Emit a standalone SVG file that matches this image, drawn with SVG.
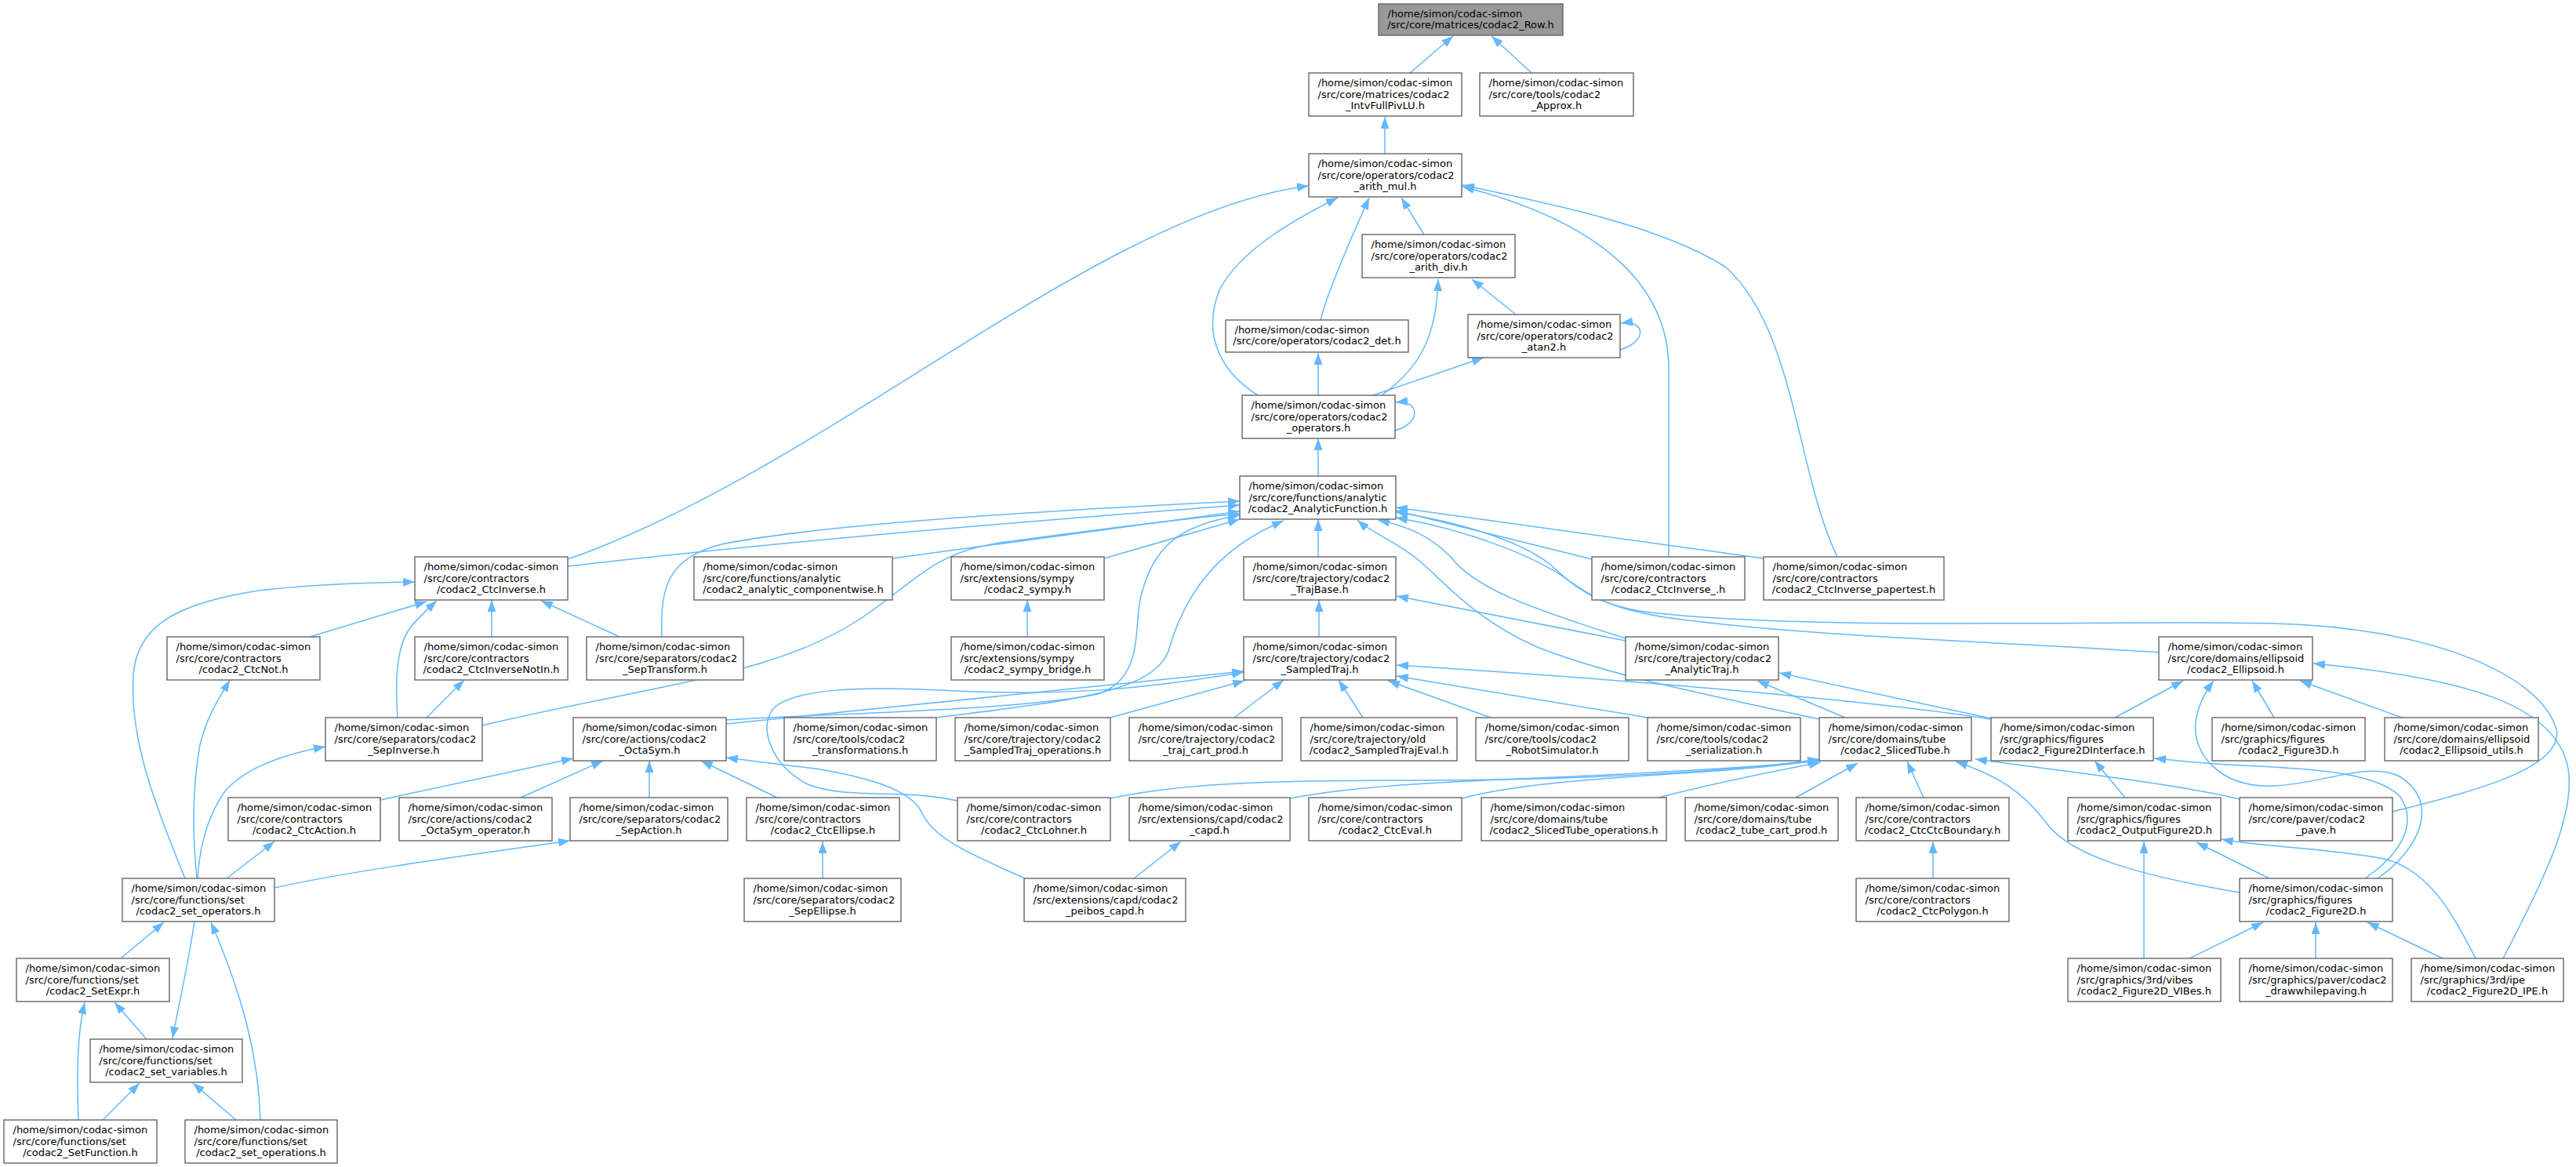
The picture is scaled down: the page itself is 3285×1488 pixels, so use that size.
<svg xmlns="http://www.w3.org/2000/svg" width="3285" height="1488" viewBox="0 0 3285 1488">
<style>
.n rect{fill:#ffffff;stroke:#666666;stroke-width:1.4}
.n rect.root{fill:#999999}
.n text{font-family:"DejaVu Sans","Liberation Sans",sans-serif;font-size:13px;fill:#000000}
.n text.c{text-anchor:middle}
.e path{fill:none;stroke:#63b8ff;stroke-width:1.5;marker-end:url(#a)}
</style>
<defs>
<marker id="a" viewBox="0 0 15 11" refX="15" refY="5.5" markerWidth="15" markerHeight="11" markerUnits="userSpaceOnUse" orient="auto"><path d="M0,0 L15,5.5 L0,11 z" fill="#63b8ff" stroke="none"/></marker>
</defs>
<rect x="0" y="0" width="3285" height="1488" fill="#ffffff"/>
<g id="edges" class="e">
<path d="M1798,93 L1853,46"/>
<path d="M1953,93 L1902,46"/>
<path d="M1766,196 L1766,149"/>
<path d="M1816,299 L1787,252"/>
<path d="M1684,408 C1692,375 1720,310 1746,252"/>
<path d="M1604,504 C1550,470 1535,420 1555,370 C1580,320 1650,280 1706,252"/>
<path d="M724,713 C1050,600 1400,270 1669,237"/>
<path d="M2128,710 L2128,470 C2128,370 2050,285 1865,238"/>
<path d="M2343,710 C2290,600 2290,420 2200,340 C2120,290 1990,262 1865,236"/>
<path d="M1762,504 C1810,470 1832,430 1834,356"/>
<path d="M1933,401 L1877,356"/>
<path d="M2066,446 C2100,436 2100,408 2067,412"/>
<path d="M1751,504 L1892,456"/>
<path d="M1681,504 L1681,450"/>
<path d="M1779,549 C1812,540 1812,510 1780,513"/>
<path d="M1681,607 L1681,559"/>
<path d="M724,722 C1000,690 1300,665 1581,644"/>
<path d="M844,812 C842,750 850,712 920,694 C1050,668 1350,650 1581,639"/>
<path d="M1138,712 L1581,652"/>
<path d="M615,925 C850,870 1000,860 1110,780 C1180,730 1200,700 1290,690 C1400,675 1500,662 1581,655"/>
<path d="M1408,712 L1581,662"/>
<path d="M1681,710 L1681,662"/>
<path d="M2030,713 L1780,651"/>
<path d="M2249,712 L1780,647"/>
<path d="M2753,832 C2550,818 2300,812 2123,787 C2050,775 2030,760 2000,740 C1960,710 1870,675 1780,660"/>
<path d="M3051,1035 C3150,1010 3270,980 3260,930 C3240,860 3100,800 2900,795 C2700,790 2300,805 2097,780 C2030,770 2005,745 1977,720 C1940,690 1860,665 1780,653"/>
<path d="M2073,814 C1950,775 1880,750 1850,710 C1820,680 1790,670 1757,663"/>
<path d="M2320,917 C2150,880 2050,860 1960,825 C1880,790 1840,740 1810,715 C1780,690 1750,680 1731,663"/>
<path d="M926,918 C1100,908 1300,905 1400,885 C1460,865 1445,800 1455,760 C1470,700 1500,670 1581,657"/>
<path d="M1194,915 C1350,895 1470,885 1490,830 C1510,760 1550,700 1637,664"/>
<path d="M2073,817 L1781,760"/>
<path d="M1682,812 L1682,765"/>
<path d="M1310,812 L1310,765"/>
<path d="M395,812 L544,767"/>
<path d="M627,812 L627,765"/>
<path d="M790,812 L690,766"/>
<path d="M507,915 C504,870 505,830 520,805 C530,790 545,777 557,766"/>
<path d="M544,915 L592,867"/>
<path d="M236,1120 C195,1020 165,940 170,860 C175,800 220,770 330,753 C400,745 470,743 529,742"/>
<path d="M251,1120 C245,1060 246,1000 255,950 C265,910 280,890 293,867"/>
<path d="M252,1120 C255,1070 270,1030 290,1005 C320,975 370,960 415,952"/>
<path d="M485,1020 L731,967"/>
<path d="M664,1017 L769,970"/>
<path d="M828,1017 L828,970"/>
<path d="M991,1017 L894,970"/>
<path d="M1307,1120 C1240,1090 1190,1070 1175,1035 C1160,1005 1100,990 1040,980 C990,974 955,970 926,966"/>
<path d="M926,923 L1586,856"/>
<path d="M1221,1021 C1150,1005 1080,1020 1030,1000 C980,975 965,920 990,900 C1020,878 1100,875 1200,880 C1350,888 1450,880 1586,857"/>
<path d="M1416,915 L1587,868"/>
<path d="M1574,915 L1637,867"/>
<path d="M1738,915 L1707,867"/>
<path d="M1901,915 L1770,868"/>
<path d="M2101,915 L1781,862"/>
<path d="M2539,917 C2400,895 2100,868 1781,848"/>
<path d="M2539,916 L2269,858"/>
<path d="M2353,915 L2241,868"/>
<path d="M2697,915 L2784,868"/>
<path d="M2900,915 L2872,868"/>
<path d="M3063,915 L2933,868"/>
<path d="M3192,1222 C3240,1130 3285,1040 3275,980 C3260,900 3150,865 2950,846"/>
<path d="M3032,1120 C3090,1080 3110,1020 3060,990 C3020,970 2960,1000 2900,1002 C2830,1005 2795,960 2800,920 C2803,900 2810,885 2823,868"/>
<path d="M3016,1120 C3060,1090 3085,1050 3060,1015 C3030,985 2950,980 2860,976 C2810,974 2780,970 2747,967"/>
<path d="M2710,1017 L2671,970"/>
<path d="M1416,1018 C1500,1000 1600,995 1800,995 C2000,995 2200,985 2320,968"/>
<path d="M1645,1018 C1750,998 1900,995 2050,988 C2200,980 2280,975 2320,970"/>
<path d="M1864,1018 C1950,995 2100,990 2200,982 C2260,978 2300,972 2320,969"/>
<path d="M2115,1017 C2200,995 2270,982 2322,972"/>
<path d="M2290,1017 L2369,973"/>
<path d="M2453,1017 L2432,971"/>
<path d="M2856,1138 C2720,1115 2640,1090 2610,1050 C2580,1010 2550,990 2494,971"/>
<path d="M2856,1019 C2780,1000 2620,982 2519,968"/>
<path d="M2465,1120 L2465,1073"/>
<path d="M2734,1222 L2734,1073"/>
<path d="M2894,1120 L2801,1074"/>
<path d="M3157,1222 C3130,1170 3100,1110 3040,1095 C2960,1080 2880,1080 2833,1070"/>
<path d="M2792,1222 L2886,1176"/>
<path d="M2953,1222 L2953,1176"/>
<path d="M3115,1222 L3019,1176"/>
<path d="M1049,1120 L1049,1073"/>
<path d="M1446,1120 L1506,1073"/>
<path d="M289,1120 L350,1073"/>
<path d="M350,1132 C450,1110 600,1090 727,1072"/>
<path d="M154,1222 L209,1176"/>
<path d="M248,1175 C240,1230 228,1280 220,1324"/>
<path d="M332,1428 C330,1350 310,1270 269,1176"/>
<path d="M187,1325 L146,1278"/>
<path d="M100,1428 C98,1370 98,1320 108,1278"/>
<path d="M131,1428 L178,1381"/>
<path d="M301,1428 L246,1381"/>
</g>
<g id="n_Row" class="n"><rect class="root" x="1758" y="5" width="235" height="40"/><text x="1769.5" y="21.5">/home/simon/codac-simon</text><text class="c" x="1875.5" y="36.3">/src/core/matrices/codac2_Row.h</text></g>
<g id="n_IntvFullPivLU" class="n"><rect x="1669" y="93" width="195" height="55"/><text x="1680.5" y="109.8">/home/simon/codac-simon</text><text x="1680.5" y="124.6">/src/core/matrices/codac2</text><text class="c" x="1766.5" y="139.4">_IntvFullPivLU.h</text></g>
<g id="n_Approx" class="n"><rect x="1887" y="93" width="196" height="55"/><text x="1898.5" y="109.8">/home/simon/codac-simon</text><text x="1898.5" y="124.6">/src/core/tools/codac2</text><text class="c" x="1985" y="139.4">_Approx.h</text></g>
<g id="n_arith_mul" class="n"><rect x="1669" y="196" width="195" height="55"/><text x="1680.5" y="212.8">/home/simon/codac-simon</text><text x="1680.5" y="227.6">/src/core/operators/codac2</text><text class="c" x="1766.5" y="242.4">_arith_mul.h</text></g>
<g id="n_arith_div" class="n"><rect x="1737" y="299" width="195" height="55"/><text x="1748.5" y="315.8">/home/simon/codac-simon</text><text x="1748.5" y="330.6">/src/core/operators/codac2</text><text class="c" x="1834.5" y="345.4">_arith_div.h</text></g>
<g id="n_det" class="n"><rect x="1563" y="408" width="233" height="41"/><text x="1574.5" y="424.5">/home/simon/codac-simon</text><text class="c" x="1679.5" y="439.3">/src/core/operators/codac2_det.h</text></g>
<g id="n_atan2" class="n"><rect x="1872" y="401" width="194" height="55"/><text x="1883.5" y="417.8">/home/simon/codac-simon</text><text x="1883.5" y="432.6">/src/core/operators/codac2</text><text class="c" x="1969" y="447.4">_atan2.h</text></g>
<g id="n_operators" class="n"><rect x="1584" y="504" width="195" height="55"/><text x="1595.5" y="520.8">/home/simon/codac-simon</text><text x="1595.5" y="535.6">/src/core/operators/codac2</text><text class="c" x="1681.5" y="550.4">_operators.h</text></g>
<g id="n_AnalyticFunction" class="n"><rect x="1581" y="607" width="199" height="55"/><text x="1592.5" y="623.8">/home/simon/codac-simon</text><text x="1592.5" y="638.6">/src/core/functions/analytic</text><text class="c" x="1680.5" y="653.4">/codac2_AnalyticFunction.h</text></g>
<g id="n_CtcInverse" class="n"><rect x="529" y="710" width="195" height="55"/><text x="540.5" y="726.8">/home/simon/codac-simon</text><text x="540.5" y="741.6">/src/core/contractors</text><text class="c" x="626.5" y="756.4">/codac2_CtcInverse.h</text></g>
<g id="n_analytic_componentwise" class="n"><rect x="885" y="710" width="253" height="55"/><text x="896.5" y="726.8">/home/simon/codac-simon</text><text x="896.5" y="741.6">/src/core/functions/analytic</text><text class="c" x="1011.5" y="756.4">/codac2_analytic_componentwise.h</text></g>
<g id="n_sympy" class="n"><rect x="1213" y="710" width="195" height="55"/><text x="1224.5" y="726.8">/home/simon/codac-simon</text><text x="1224.5" y="741.6">/src/extensions/sympy</text><text class="c" x="1310.5" y="756.4">/codac2_sympy.h</text></g>
<g id="n_TrajBase" class="n"><rect x="1586" y="710" width="194" height="55"/><text x="1597.5" y="726.8">/home/simon/codac-simon</text><text x="1597.5" y="741.6">/src/core/trajectory/codac2</text><text class="c" x="1683" y="756.4">_TrajBase.h</text></g>
<g id="n_CtcInverse_" class="n"><rect x="2030" y="710" width="195" height="55"/><text x="2041.5" y="726.8">/home/simon/codac-simon</text><text x="2041.5" y="741.6">/src/core/contractors</text><text class="c" x="2127.5" y="756.4">/codac2_CtcInverse_.h</text></g>
<g id="n_CtcInverse_papertest" class="n"><rect x="2249" y="710" width="230" height="55"/><text x="2260.5" y="726.8">/home/simon/codac-simon</text><text x="2260.5" y="741.6">/src/core/contractors</text><text class="c" x="2364" y="756.4">/codac2_CtcInverse_papertest.h</text></g>
<g id="n_CtcNot" class="n"><rect x="213" y="812" width="195" height="55"/><text x="224.5" y="828.8">/home/simon/codac-simon</text><text x="224.5" y="843.6">/src/core/contractors</text><text class="c" x="310.5" y="858.4">/codac2_CtcNot.h</text></g>
<g id="n_CtcInverseNotIn" class="n"><rect x="529" y="812" width="195" height="55"/><text x="540.5" y="828.8">/home/simon/codac-simon</text><text x="540.5" y="843.6">/src/core/contractors</text><text class="c" x="626.5" y="858.4">/codac2_CtcInverseNotIn.h</text></g>
<g id="n_SepTransform" class="n"><rect x="748" y="812" width="200" height="55"/><text x="759.5" y="828.8">/home/simon/codac-simon</text><text x="759.5" y="843.6">/src/core/separators/codac2</text><text class="c" x="848" y="858.4">_SepTransform.h</text></g>
<g id="n_sympy_bridge" class="n"><rect x="1213" y="812" width="195" height="55"/><text x="1224.5" y="828.8">/home/simon/codac-simon</text><text x="1224.5" y="843.6">/src/extensions/sympy</text><text class="c" x="1310.5" y="858.4">/codac2_sympy_bridge.h</text></g>
<g id="n_SampledTraj" class="n"><rect x="1586" y="812" width="194" height="55"/><text x="1597.5" y="828.8">/home/simon/codac-simon</text><text x="1597.5" y="843.6">/src/core/trajectory/codac2</text><text class="c" x="1683" y="858.4">_SampledTraj.h</text></g>
<g id="n_AnalyticTraj" class="n"><rect x="2073" y="812" width="195" height="55"/><text x="2084.5" y="828.8">/home/simon/codac-simon</text><text x="2084.5" y="843.6">/src/core/trajectory/codac2</text><text class="c" x="2170.5" y="858.4">_AnalyticTraj.h</text></g>
<g id="n_Ellipsoid" class="n"><rect x="2753" y="812" width="196" height="55"/><text x="2764.5" y="828.8">/home/simon/codac-simon</text><text x="2764.5" y="843.6">/src/core/domains/ellipsoid</text><text class="c" x="2851" y="858.4">/codac2_Ellipsoid.h</text></g>
<g id="n_SepInverse" class="n"><rect x="415" y="915" width="200" height="55"/><text x="426.5" y="931.8">/home/simon/codac-simon</text><text x="426.5" y="946.6">/src/core/separators/codac2</text><text class="c" x="515" y="961.4">_SepInverse.h</text></g>
<g id="n_OctaSym" class="n"><rect x="731" y="915" width="195" height="55"/><text x="742.5" y="931.8">/home/simon/codac-simon</text><text x="742.5" y="946.6">/src/core/actions/codac2</text><text class="c" x="828.5" y="961.4">_OctaSym.h</text></g>
<g id="n_transformations" class="n"><rect x="1000" y="915" width="194" height="55"/><text x="1011.5" y="931.8">/home/simon/codac-simon</text><text x="1011.5" y="946.6">/src/core/tools/codac2</text><text class="c" x="1097" y="961.4">_transformations.h</text></g>
<g id="n_SampledTraj_operations" class="n"><rect x="1218" y="915" width="198" height="55"/><text x="1229.5" y="931.8">/home/simon/codac-simon</text><text x="1229.5" y="946.6">/src/core/trajectory/codac2</text><text class="c" x="1317" y="961.4">_SampledTraj_operations.h</text></g>
<g id="n_traj_cart_prod" class="n"><rect x="1440" y="915" width="195" height="55"/><text x="1451.5" y="931.8">/home/simon/codac-simon</text><text x="1451.5" y="946.6">/src/core/trajectory/codac2</text><text class="c" x="1537.5" y="961.4">_traj_cart_prod.h</text></g>
<g id="n_SampledTrajEval" class="n"><rect x="1659" y="915" width="199" height="55"/><text x="1670.5" y="931.8">/home/simon/codac-simon</text><text x="1670.5" y="946.6">/src/core/trajectory/old</text><text class="c" x="1758.5" y="961.4">/codac2_SampledTrajEval.h</text></g>
<g id="n_RobotSimulator" class="n"><rect x="1882" y="915" width="195" height="55"/><text x="1893.5" y="931.8">/home/simon/codac-simon</text><text x="1893.5" y="946.6">/src/core/tools/codac2</text><text class="c" x="1979.5" y="961.4">_RobotSimulator.h</text></g>
<g id="n_serialization" class="n"><rect x="2101" y="915" width="195" height="55"/><text x="2112.5" y="931.8">/home/simon/codac-simon</text><text x="2112.5" y="946.6">/src/core/tools/codac2</text><text class="c" x="2198.5" y="961.4">_serialization.h</text></g>
<g id="n_SlicedTube" class="n"><rect x="2320" y="915" width="194" height="55"/><text x="2331.5" y="931.8">/home/simon/codac-simon</text><text x="2331.5" y="946.6">/src/core/domains/tube</text><text class="c" x="2417" y="961.4">/codac2_SlicedTube.h</text></g>
<g id="n_Figure2DInterface" class="n"><rect x="2539" y="915" width="207" height="55"/><text x="2550.5" y="931.8">/home/simon/codac-simon</text><text x="2550.5" y="946.6">/src/graphics/figures</text><text class="c" x="2642.5" y="961.4">/codac2_Figure2DInterface.h</text></g>
<g id="n_Figure3D" class="n"><rect x="2821" y="915" width="195" height="55"/><text x="2832.5" y="931.8">/home/simon/codac-simon</text><text x="2832.5" y="946.6">/src/graphics/figures</text><text class="c" x="2918.5" y="961.4">/codac2_Figure3D.h</text></g>
<g id="n_Ellipsoid_utils" class="n"><rect x="3041" y="915" width="196" height="55"/><text x="3052.5" y="931.8">/home/simon/codac-simon</text><text x="3052.5" y="946.6">/src/core/domains/ellipsoid</text><text class="c" x="3139" y="961.4">/codac2_Ellipsoid_utils.h</text></g>
<g id="n_CtcAction" class="n"><rect x="291" y="1017" width="194" height="55"/><text x="302.5" y="1033.8">/home/simon/codac-simon</text><text x="302.5" y="1048.6">/src/core/contractors</text><text class="c" x="388" y="1063.4">/codac2_CtcAction.h</text></g>
<g id="n_OctaSym_operator" class="n"><rect x="509" y="1017" width="195" height="55"/><text x="520.5" y="1033.8">/home/simon/codac-simon</text><text x="520.5" y="1048.6">/src/core/actions/codac2</text><text class="c" x="606.5" y="1063.4">_OctaSym_operator.h</text></g>
<g id="n_SepAction" class="n"><rect x="727" y="1017" width="201" height="55"/><text x="738.5" y="1033.8">/home/simon/codac-simon</text><text x="738.5" y="1048.6">/src/core/separators/codac2</text><text class="c" x="827.5" y="1063.4">_SepAction.h</text></g>
<g id="n_CtcEllipse" class="n"><rect x="952" y="1017" width="195" height="55"/><text x="963.5" y="1033.8">/home/simon/codac-simon</text><text x="963.5" y="1048.6">/src/core/contractors</text><text class="c" x="1049.5" y="1063.4">/codac2_CtcEllipse.h</text></g>
<g id="n_CtcLohner" class="n"><rect x="1221" y="1017" width="195" height="55"/><text x="1232.5" y="1033.8">/home/simon/codac-simon</text><text x="1232.5" y="1048.6">/src/core/contractors</text><text class="c" x="1318.5" y="1063.4">/codac2_CtcLohner.h</text></g>
<g id="n_capd" class="n"><rect x="1440" y="1017" width="205" height="55"/><text x="1451.5" y="1033.8">/home/simon/codac-simon</text><text x="1451.5" y="1048.6">/src/extensions/capd/codac2</text><text class="c" x="1542.5" y="1063.4">_capd.h</text></g>
<g id="n_CtcEval" class="n"><rect x="1669" y="1017" width="195" height="55"/><text x="1680.5" y="1033.8">/home/simon/codac-simon</text><text x="1680.5" y="1048.6">/src/core/contractors</text><text class="c" x="1766.5" y="1063.4">/codac2_CtcEval.h</text></g>
<g id="n_SlicedTube_operations" class="n"><rect x="1889" y="1017" width="236" height="55"/><text x="1900.5" y="1033.8">/home/simon/codac-simon</text><text x="1900.5" y="1048.6">/src/core/domains/tube</text><text class="c" x="2007" y="1063.4">/codac2_SlicedTube_operations.h</text></g>
<g id="n_tube_cart_prod" class="n"><rect x="2149" y="1017" width="195" height="55"/><text x="2160.5" y="1033.8">/home/simon/codac-simon</text><text x="2160.5" y="1048.6">/src/core/domains/tube</text><text class="c" x="2246.5" y="1063.4">/codac2_tube_cart_prod.h</text></g>
<g id="n_CtcCtcBoundary" class="n"><rect x="2367" y="1017" width="195" height="55"/><text x="2378.5" y="1033.8">/home/simon/codac-simon</text><text x="2378.5" y="1048.6">/src/core/contractors</text><text class="c" x="2464.5" y="1063.4">/codac2_CtcCtcBoundary.h</text></g>
<g id="n_OutputFigure2D" class="n"><rect x="2637" y="1017" width="195" height="55"/><text x="2648.5" y="1033.8">/home/simon/codac-simon</text><text x="2648.5" y="1048.6">/src/graphics/figures</text><text class="c" x="2734.5" y="1063.4">/codac2_OutputFigure2D.h</text></g>
<g id="n_pave" class="n"><rect x="2856" y="1017" width="195" height="55"/><text x="2867.5" y="1033.8">/home/simon/codac-simon</text><text x="2867.5" y="1048.6">/src/core/paver/codac2</text><text class="c" x="2953.5" y="1063.4">_pave.h</text></g>
<g id="n_set_operators" class="n"><rect x="156" y="1120" width="194" height="55"/><text x="167.5" y="1136.8">/home/simon/codac-simon</text><text x="167.5" y="1151.6">/src/core/functions/set</text><text class="c" x="253" y="1166.4">/codac2_set_operators.h</text></g>
<g id="n_SepEllipse" class="n"><rect x="949" y="1120" width="200" height="55"/><text x="960.5" y="1136.8">/home/simon/codac-simon</text><text x="960.5" y="1151.6">/src/core/separators/codac2</text><text class="c" x="1049" y="1166.4">_SepEllipse.h</text></g>
<g id="n_peibos_capd" class="n"><rect x="1306" y="1120" width="206" height="55"/><text x="1317.5" y="1136.8">/home/simon/codac-simon</text><text x="1317.5" y="1151.6">/src/extensions/capd/codac2</text><text class="c" x="1409" y="1166.4">_peibos_capd.h</text></g>
<g id="n_CtcPolygon" class="n"><rect x="2367" y="1120" width="195" height="55"/><text x="2378.5" y="1136.8">/home/simon/codac-simon</text><text x="2378.5" y="1151.6">/src/core/contractors</text><text class="c" x="2464.5" y="1166.4">/codac2_CtcPolygon.h</text></g>
<g id="n_Figure2D" class="n"><rect x="2856" y="1120" width="195" height="55"/><text x="2867.5" y="1136.8">/home/simon/codac-simon</text><text x="2867.5" y="1151.6">/src/graphics/figures</text><text class="c" x="2953.5" y="1166.4">/codac2_Figure2D.h</text></g>
<g id="n_SetExpr" class="n"><rect x="21" y="1222" width="195" height="55"/><text x="32.5" y="1238.8">/home/simon/codac-simon</text><text x="32.5" y="1253.6">/src/core/functions/set</text><text class="c" x="118.5" y="1268.4">/codac2_SetExpr.h</text></g>
<g id="n_Figure2D_VIBes" class="n"><rect x="2637" y="1222" width="195" height="55"/><text x="2648.5" y="1238.8">/home/simon/codac-simon</text><text x="2648.5" y="1253.6">/src/graphics/3rd/vibes</text><text class="c" x="2734.5" y="1268.4">/codac2_Figure2D_VIBes.h</text></g>
<g id="n_drawwhilepaving" class="n"><rect x="2856" y="1222" width="195" height="55"/><text x="2867.5" y="1238.8">/home/simon/codac-simon</text><text x="2867.5" y="1253.6">/src/graphics/paver/codac2</text><text class="c" x="2953.5" y="1268.4">_drawwhilepaving.h</text></g>
<g id="n_Figure2D_IPE" class="n"><rect x="3075" y="1222" width="194" height="55"/><text x="3086.5" y="1238.8">/home/simon/codac-simon</text><text x="3086.5" y="1253.6">/src/graphics/3rd/ipe</text><text class="c" x="3172" y="1268.4">/codac2_Figure2D_IPE.h</text></g>
<g id="n_set_variables" class="n"><rect x="115" y="1325" width="194" height="55"/><text x="126.5" y="1341.8">/home/simon/codac-simon</text><text x="126.5" y="1356.6">/src/core/functions/set</text><text class="c" x="212" y="1371.4">/codac2_set_variables.h</text></g>
<g id="n_SetFunction" class="n"><rect x="5" y="1428" width="195" height="55"/><text x="16.5" y="1444.8">/home/simon/codac-simon</text><text x="16.5" y="1459.6">/src/core/functions/set</text><text class="c" x="102.5" y="1474.4">/codac2_SetFunction.h</text></g>
<g id="n_set_operations" class="n"><rect x="236" y="1428" width="194" height="55"/><text x="247.5" y="1444.8">/home/simon/codac-simon</text><text x="247.5" y="1459.6">/src/core/functions/set</text><text class="c" x="333" y="1474.4">/codac2_set_operations.h</text></g>
</svg>
